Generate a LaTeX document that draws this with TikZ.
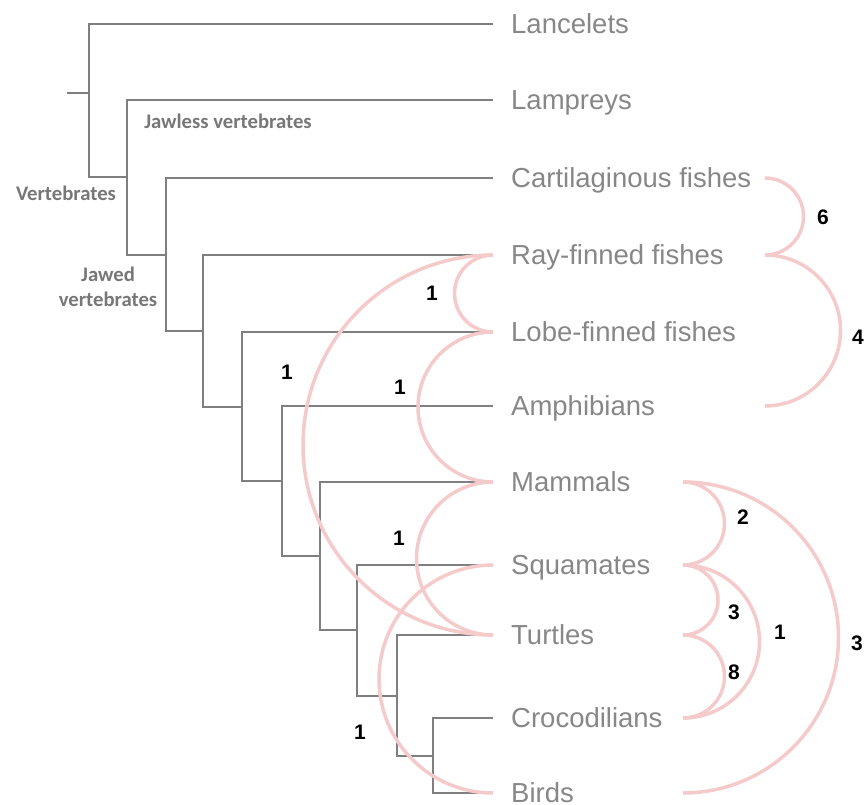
\documentclass[tikz,border=0pt]{standalone}
\usepackage{fontspec}
\newfontfamily\tipfont{Liberation Sans}
\newfontfamily\cladefont{Carlito}
\usepackage{tikz}
\usetikzlibrary{positioning,calc}
\definecolor{tree}{HTML}{7F7F7F}
\definecolor{tipc}{HTML}{878787}
\definecolor{cladec}{HTML}{777777}
\definecolor{homc}{HTML}{F4CACA}
\tikzset{
  branch/.style={draw=tree,line width=2pt},
  tip/.style={font=\tipfont\fontsize{27.5}{30}\selectfont,text=tipc,anchor=west,inner sep=0pt,text height=19.7pt,text depth=0pt},
  clade/.style={font=\cladefont\bfseries\fontsize{20.7}{25}\selectfont,text=cladec,align=center,inner sep=0pt},
  hom/.style={draw=homc,line width=3.5pt},
  num/.style={font=\tipfont\bfseries\fontsize{21}{24}\selectfont,text=black,inner sep=0pt},
}

\begin{document}
\begin{tikzpicture}[x=1pt,y=-1pt]
\useasboundingbox (0,0) rectangle (867,805);
% tips
\coordinate (lan) at (493,24);
\coordinate (lam) at (493,100);
\coordinate (car) at (493,178);
\coordinate (ray) at (493,255);
\coordinate (lob) at (493,332);
\coordinate (amp) at (493,406);
\coordinate (mam) at (493,482);
\coordinate (squ) at (493,565);
\coordinate (tur) at (493,635);
\coordinate (cro) at (493,718);
\coordinate (bir) at (493,793);
% inner nodes
\coordinate (stub) at (67,93);
\coordinate (root) at (89,93);
\coordinate (n1) at (127,177);
\coordinate (n2) at (166,254.5);
\coordinate (n3) at (203,331);
\coordinate (n4) at (242,406.5);
\coordinate (n5) at (282,481);
\coordinate (n6) at (320,556);
\coordinate (n7) at (357,630);
\coordinate (n8) at (397,695.5);
\coordinate (n9) at (433,755.5);
% tree
\draw[branch] (stub) -- (root);
\foreach \a/\n/\b in {lan/root/n1,lam/n1/n2,car/n2/n3,ray/n3/n4,lob/n4/n5,amp/n5/n6,mam/n6/n7,squ/n7/n8,tur/n8/n9,cro/n9/bir}
  \draw[branch] (\a) -| (\n) |- (\b);
% tip labels
\foreach \t/\s in {lan/Lancelets,lam/Lampreys,car/Cartilaginous fishes,ray/Ray-finned fishes,lob/Lobe-finned fishes,amp/Amphibians,mam/Mammals,squ/Squamates,tur/Turtles,cro/Crocodilians,bir/Birds}
  \node[tip,right=18pt of \t] (\t-lab) {\s};
% clades
\node[clade] (jawless) at (228,121) {Jawless vertebrates};
\node[clade] (vert) at (66,193) {Vertebrates};
\node[clade] (jawed) at (108,287) {Jawed\\vertebrates};
% homoplasies, left side
\draw[hom] (ray) arc[start angle=270,end angle=90,radius=38.5];
\draw[hom] (lob) arc[start angle=270,end angle=90,radius=75];
\draw[hom] (ray) arc[start angle=270,end angle=90,radius=190];
\draw[hom] (mam) arc[start angle=270,end angle=90,radius=76.5];
\draw[hom] (squ) arc[start angle=270,end angle=90,radius=114];
% homoplasies, right side
\coordinate (ra) at (765,0);
\coordinate (rb) at (683,0);
\draw[hom] (car -| ra) arc[start angle=-90,end angle=90,radius=38.5];
\draw[hom] (ray -| ra) arc[start angle=-90,end angle=90,radius=75.5];
\draw[hom] (mam -| rb) arc[start angle=-90,end angle=90,radius=41.5];
\draw[hom] (squ -| rb) arc[start angle=-90,end angle=90,radius=35];
\draw[hom] (tur -| rb) arc[start angle=-90,end angle=90,radius=41.5];
\draw[hom] (squ -| rb) arc[start angle=-90,end angle=90,radius=76.5];
\draw[hom] (mam -| rb) arc[start angle=-90,end angle=90,radius=155.5];
% counts
\node[num] (c1) at (432,293) {1};
\node[num] (c2) at (400,387) {1};
\node[num] (c3) at (287,372) {1};
\node[num] (c4) at (399,538) {1};
\node[num] (c5) at (360,732) {1};
\node[num] (c6) at (823,217) {6};
\node[num] (c7) at (858,337) {4};
\node[num] (c8) at (743,517) {2};
\node[num] (c9) at (734,612) {3};
\node[num] (c10) at (734,672) {8};
\node[num] (c11) at (780,632) {1};
\node[num] (c12) at (857,643) {3};
\end{tikzpicture}
\end{document}
